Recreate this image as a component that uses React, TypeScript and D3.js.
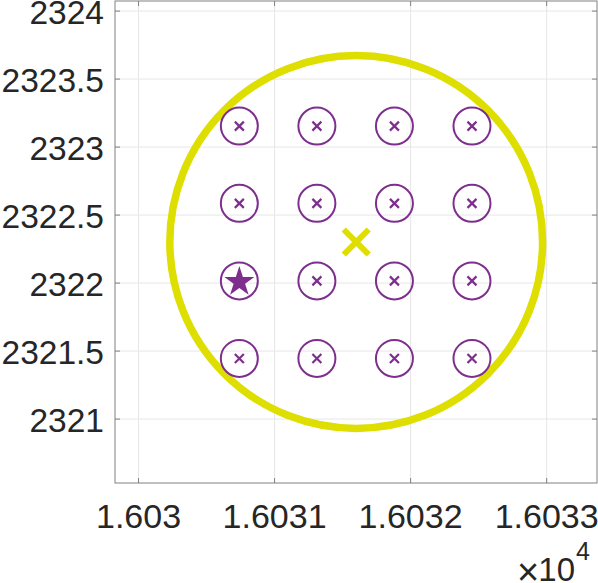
import React from "react";
import * as d3 from "d3";

const xTicks = [16030, 16031, 16032, 16033];
const xTickLabels = ["1.603", "1.6031", "1.6032", "1.6033"];
const yTicks = [2321, 2321.5, 2322, 2322.5, 2323, 2323.5, 2324];
const yTickLabels = ["2321", "2321.5", "2322", "2322.5", "2323", "2323.5", "2324"];

const gridX = [16030.741, 16031.311, 16031.881, 16032.451];
const gridY = [2323.154, 2322.586, 2322.016, 2321.446];
const starPoint = { x: 16030.741, y: 2322.016 };
const centerPoint = { x: 16031.6, y: 2322.302 };
const bigRadius = 1.37;

const W = 598, H = 583;
const L = 115, R = 597, T = 1, B = 483;

export default function App() {
  const x = d3.scaleLinear().domain([16029.827, 16033.37]).range([L, R]);
  const y = d3.scaleLinear().domain([2320.53, 2324.074]).range([B, T]);
  const purple = "#7E2F8E";
  const yellow = "#DEDE00";
  const axisCol = "#808080";
  const textCol = "#262626";
  const font = "'Liberation Sans', Arial, Helvetica, sans-serif";
  const points: { x: number; y: number }[] = [];
  gridY.forEach((yy) => gridX.forEach((xx) => points.push({ x: xx, y: yy })));
  const starPath = d3.symbol().type(d3.symbolStar).size(280)();
  const rPix = x(centerPoint.x + bigRadius) - x(centerPoint.x);
  const xs = 4.5;
  const bx = 12.5;
  return (
    <svg width={W} height={H} style={{ position: "absolute", left: 0, top: 0 }} fontFamily={font}>
      <rect x={0} y={0} width={W} height={H} fill="#fff" />
      {xTicks.map((t) => (
        <line key={"gx" + t} x1={x(t)} x2={x(t)} y1={T} y2={B} stroke="#e6e6e6" strokeWidth={1} />
      ))}
      {yTicks.map((t) => (
        <line key={"gy" + t} x1={L} x2={R} y1={y(t)} y2={y(t)} stroke="#e6e6e6" strokeWidth={1} />
      ))}
      <circle cx={x(centerPoint.x)} cy={y(centerPoint.y)} r={rPix} fill="none" stroke={yellow} strokeWidth={7.5} />
      {points.map((p, i) => (
        <g key={i} transform={`translate(${x(p.x)},${y(p.y)})`}>
          <circle r={18.5} fill="none" stroke={purple} strokeWidth={2} />
          {!(p.x === starPoint.x && p.y === starPoint.y) && (
            <path d={`M${-xs},${-xs}L${xs},${xs}M${-xs},${xs}L${xs},${-xs}`} stroke={purple} strokeWidth={2.2} />
          )}
        </g>
      ))}
      <path d={starPath || ""} transform={`translate(${x(starPoint.x)},${y(starPoint.y) + 1})`} fill={purple} />
      <path
        transform={`translate(${x(centerPoint.x)},${y(centerPoint.y)})`}
        d={`M${-bx},${-bx}L${bx},${bx}M${-bx},${bx}L${bx},${-bx}`}
        stroke={yellow}
        strokeWidth={6}
      />
      <rect x={L} y={T} width={R - L} height={B - T} fill="none" stroke={axisCol} strokeWidth={1} />
      {xTicks.map((t) => (
        <g key={"tx" + t}>
          <line x1={x(t)} x2={x(t)} y1={B} y2={B - 5} stroke={axisCol} />
          <line x1={x(t)} x2={x(t)} y1={T} y2={T + 5} stroke={axisCol} />
        </g>
      ))}
      {yTicks.map((t) => (
        <g key={"ty" + t}>
          <line x1={L} x2={L + 5} y1={y(t)} y2={y(t)} stroke={axisCol} />
          <line x1={R} x2={R - 5} y1={y(t)} y2={y(t)} stroke={axisCol} />
        </g>
      ))}
      {xTicks.map((t, i) => (
        <text key={"lx" + t} x={x(t)} y={528} textAnchor="middle" fontSize={34} fill={textCol}>
          {xTickLabels[i]}
        </text>
      ))}
      {yTicks.map((t, i) => (
        <text key={"ly" + t} x={104} y={y(t) + 12.5} textAnchor="end" fontSize={33.5} fill={textCol}>
          {yTickLabels[i]}
        </text>
      ))}
      <text x={528} y={585} textAnchor="middle" fontSize={38} fill={textCol}>×</text>
      <text x={575} y={581} textAnchor="end" fontSize={33} fill={textCol}>10</text>
      <text x={576} y={560} textAnchor="start" fontSize={25} fill={textCol}>4</text>
    </svg>
  );
}
